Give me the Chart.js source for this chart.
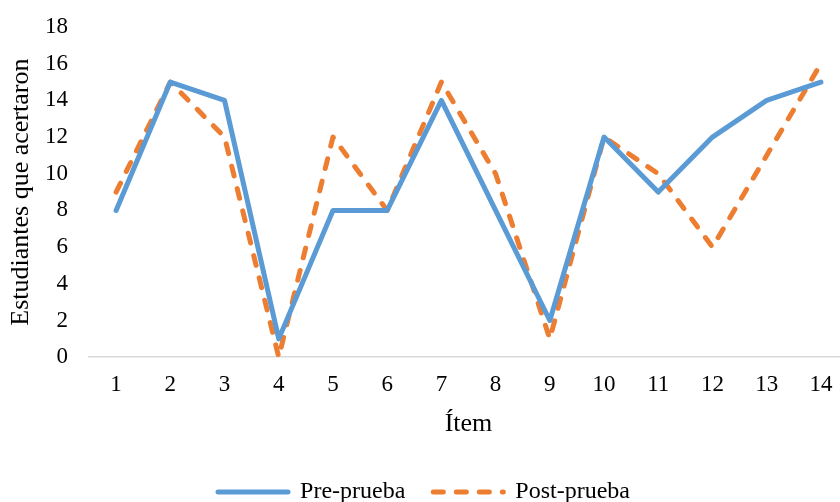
<!DOCTYPE html>
<html>
<head>
<meta charset="utf-8">
<script src="https://cdn.jsdelivr.net/npm/chart.js@4/dist/chart.umd.min.js"></script>
<style>
  html, body { margin: 0; padding: 0; background: #fff; }
  #wrap { width: 840px; height: 502px; overflow: hidden; }
</style>
</head>
<body>
<div id="wrap"><canvas id="lineChart" width="850" height="502"></canvas></div>
<script>
// datos
const items = ['1','2','3','4','5','6','7','8','9','10','11','12','13','14'];
const prePrueba = [8, 15, 14, 1, 8, 8, 14, 8, 2, 12, 9, 12, 14, 15];
const postPrueba = [9, 15, 12, 0, 12, 8, 15, 10, 1, 12, 10, 6, 11, 16];

const serif = "'Liberation Serif', 'Times New Roman', serif";

new Chart(document.getElementById('lineChart'), {
    type: 'line',
    data: {
        labels: items,
        datasets: [
            { label: 'Pre-prueba', data: prePrueba, borderColor: '#5B9BD5', backgroundColor: '#5B9BD5',
              borderWidth: 5, pointRadius: 0, tension: 0, borderCapStyle: 'round', borderJoinStyle: 'round' },
            { label: 'Post-prueba', data: postPrueba, borderColor: '#ED7D31', backgroundColor: '#ED7D31',
              borderWidth: 5, pointRadius: 0, tension: 0, borderDash: [10, 13], borderCapStyle: 'round', borderJoinStyle: 'round' }
        ]
    },
    options: {
        responsive: false,
        animation: false,
        layout: { padding: { left: 0, right: 2, top: 0, bottom: -12 } },
        plugins: {
            legend: {
                position: 'bottom',
                labels: {
                    usePointStyle: true,
                    pointStyle: 'line',
                    pointStyleWidth: 70,
                    boxHeight: 10,
                    padding: 28,
                    color: '#000',
                    font: { family: serif, size: 24 },
                    generateLabels: (chart) => chart.data.datasets.map((ds, i) => ({
                        text: ds.label,
                        datasetIndex: i,
                        fillStyle: ds.borderColor,
                        strokeStyle: ds.borderColor,
                        lineWidth: 5,
                        lineDash: ds.borderDash || [],
                        lineCap: 'round',
                        pointStyle: 'line',
                        fontColor: '#000',
                        hidden: false
                    }))
                }
            },
            tooltip: { enabled: false }
        },
        scales: {
            x: {
                offset: true,
                grid: { display: false, drawTicks: false, offset: true },
                border: { display: true, color: '#d9d9d9', width: 1.5 },
                ticks: { color: '#000', font: { family: serif, size: 23 }, padding: 14 },
                title: { display: true, text: 'Ítem', color: '#000', font: { family: serif, size: 26 }, padding: { top: -4, bottom: 12 } }
            },
            y: {
                min: 0, max: 18,
                afterFit: (scale) => { scale.width = 89; scale.paddingTop = 27; },
                grid: { display: false, drawTicks: false },
                border: { display: false },
                ticks: { stepSize: 2, color: '#000', font: { family: serif, size: 23 }, padding: 21 },
                title: { display: true, text: 'Estudiantes que acertaron', color: '#000', font: { family: serif, size: 26 }, padding: 6 }
            }
        }
    }
});
</script>
</body>
</html>
